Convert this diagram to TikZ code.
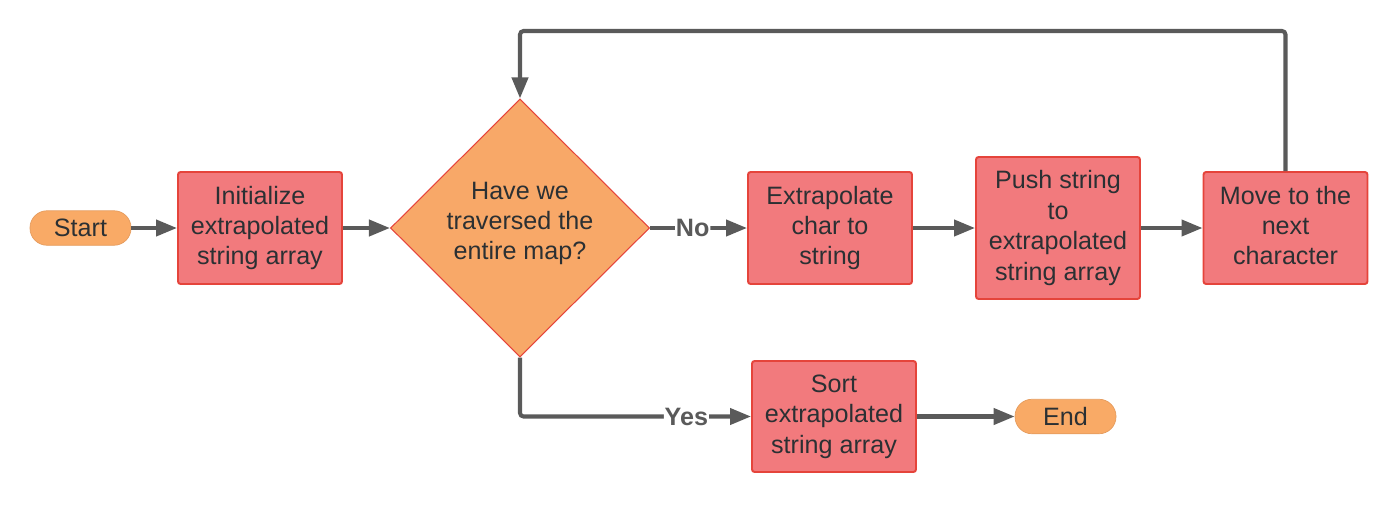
\documentclass[tikz,border=0pt]{standalone}
\usepackage{fontspec}
\setmainfont{Liberation Sans}
\usetikzlibrary{shapes.geometric,arrows.meta}
\definecolor{boxred}{HTML}{F27A7D}
\definecolor{edgered}{HTML}{E5443B}
\definecolor{decorange}{HTML}{F8A868}
\definecolor{termorange}{HTML}{F9AA66}
\definecolor{linegray}{HTML}{5A5A5A}
\definecolor{textdark}{HTML}{2B3033}
\begin{document}
\begin{tikzpicture}[
    font=\fontsize{14.3}{17.3}\selectfont, text=textdark,
    process/.style={draw=edgered, line width=1.1pt, fill=boxred, rounded corners=1.5pt,
        minimum width=3.28cm, minimum height=2.24cm, align=center, inner sep=2pt},
    terminal/.style={draw=termorange!92!black, line width=0.4pt, fill=termorange,
        rounded corners=0.34cm, minimum width=2.02cm, minimum height=0.69cm, inner sep=1pt},
    decision/.style={diamond, aspect=1, draw=edgered, line width=0.6pt, fill=decorange,
        minimum width=5.18cm, minimum height=5.16cm, inner sep=0pt},
    flow/.style={draw=linegray, line width=2.3pt, rounded corners=2pt,
        -{Triangle[length=4.2mm,width=3.2mm]}},
    branch/.style={font=\bfseries\fontsize{14.3}{17}\selectfont, text=linegray,
        fill=white, inner sep=0.5pt}
]
    \useasboundingbox (0,0) rectangle (28,-10.1);

    % Nodes
    \node[terminal] (start) at (1.61,-4.56) {Start};
    \node[process] (init) at (5.2,-4.56) {Initialize\\extrapolated\\string array};
    \node[decision] (dec) at (10.4,-4.56) {};
    \node[align=center] (dectext) at ([yshift=0.09cm]dec.center) {Have we\\traversed the\\entire map?};
    \node[process] (extrap) at (16.6,-4.56) {Extrapolate\\char to\\string};
    \node[process, minimum height=2.84cm] (push) at (21.16,-4.56) {Push string\\to\\extrapolated\\string array};
    \node[process] (move) at (25.71,-4.56) {Move to the\\next\\character\vphantom{g}};
    \node[process, minimum height=2.22cm] (sort) at (16.68,-8.33) {Sort\\extrapolated\\string array};
    \node[terminal] (end) at (21.31,-8.33) {End};
    \coordinate (looptop) at (10.4,-0.62);

    % Connectors
    \draw[flow] (start) -- (init);
    \draw[flow] (init) -- (dec);
    \draw[flow] (dec) -- node[branch, pos=0.44] (no) {No} (extrap);
    \draw[flow] (extrap) -- (push);
    \draw[flow] (push) -- (move);
    \draw[flow] (move.north) |- (looptop) -- (dec.north);
    \draw[flow] (dec.south) |- node[branch, pos=0.86] (yes) {Yes} (sort.west);
    \draw[flow] (sort) -- (end);
\end{tikzpicture}
\end{document}
